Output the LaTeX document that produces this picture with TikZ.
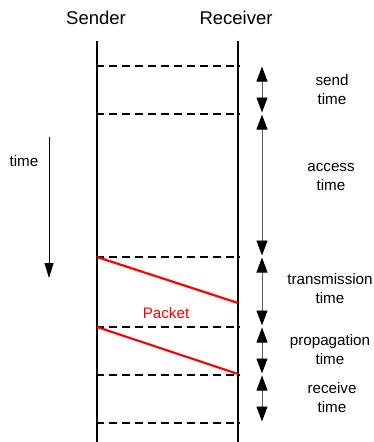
\documentclass[tikz,border=0pt]{standalone}
\usepackage{fontspec}
\setmainfont{Liberation Sans}
\usetikzlibrary{arrows.meta}
\definecolor{pkt}{RGB}{255,0,0}
\tikzset{
  lifeline/.style={line width=1.6pt, black},
  level/.style={line width=1.6pt, black, dash pattern=on 8pt off 5pt},
  packet/.style={line width=2.2pt, pkt},
  span/.style={line width=0.9pt, gray!70!black, {Triangle[width=11pt,length=15pt,color=black]}-{Triangle[width=11pt,length=15pt,color=black]}},
  head/.style={font=\fontsize{18.5}{22}\selectfont, inner sep=0pt},
  lbl/.style={font=\fontsize{15.2}{19}\selectfont, align=center, inner sep=0pt},
}
\begin{document}
\begin{tikzpicture}[x=1pt,y=-1pt]
\useasboundingbox (0,0) rectangle (374,442);
% headers
\node[head] (snd) at (96,18) {Sender};
\node[head] (rcv) at (236,18) {Receiver};
% lifelines
\coordinate (stop) at (97,41);
\coordinate (sbot) at (97,442);
\coordinate (rtop) at (238,41);
\coordinate (rbot) at (238,442);
\draw[lifeline] (stop) -- (sbot);
\draw[lifeline] (rtop) -- (rbot);
% levels
\foreach \i/\y in {1/66,2/114,3/257,4/327,5/375,6/423}{
  \coordinate (s\i) at (96,\y);
  \coordinate (r\i) at (240,\y);
  \coordinate (u\i) at (262,\y+0.5);
  \coordinate (d\i) at (262,\y-1.5);
  \draw[level] (s\i) -- (r\i);
}
% packet lines
\coordinate (p1) at (97,257);
\coordinate (p2) at (238,303);
\coordinate (p3) at (97,327);
\coordinate (p4) at (238,374);
\draw[packet] (p1) -- (p2);
\draw[packet] (p3) -- (p4);
\node[lbl, text=pkt] (pk) at (166,313) {Packet};
% spans
\draw[span] (u1) -- (d2);
\draw[span] (u2) -- (d3);
\draw[span] (u3) -- (d4);
\draw[span] (u4) -- (d5);
\draw[span] (u5) -- (d6);
% span labels
\node[lbl] (l1) at (332,90) {send\\time};
\node[lbl] (l2) at (331,177) {access\\time};
\node[lbl] (l3) at (330,289) {transmission\\time};
\node[lbl] (l4) at (330,350) {propagation\\time};
\node[lbl] (l5) at (332,398) {receive\\time};
% time arrow
\coordinate (t0) at (49,137);
\coordinate (t1) at (49,278);
\draw[line width=1pt, -{Triangle[width=9pt,length=15pt]}] (t0) -- (t1);
\node[lbl] (tl) at (24,161) {time};
\end{tikzpicture}
\end{document}
